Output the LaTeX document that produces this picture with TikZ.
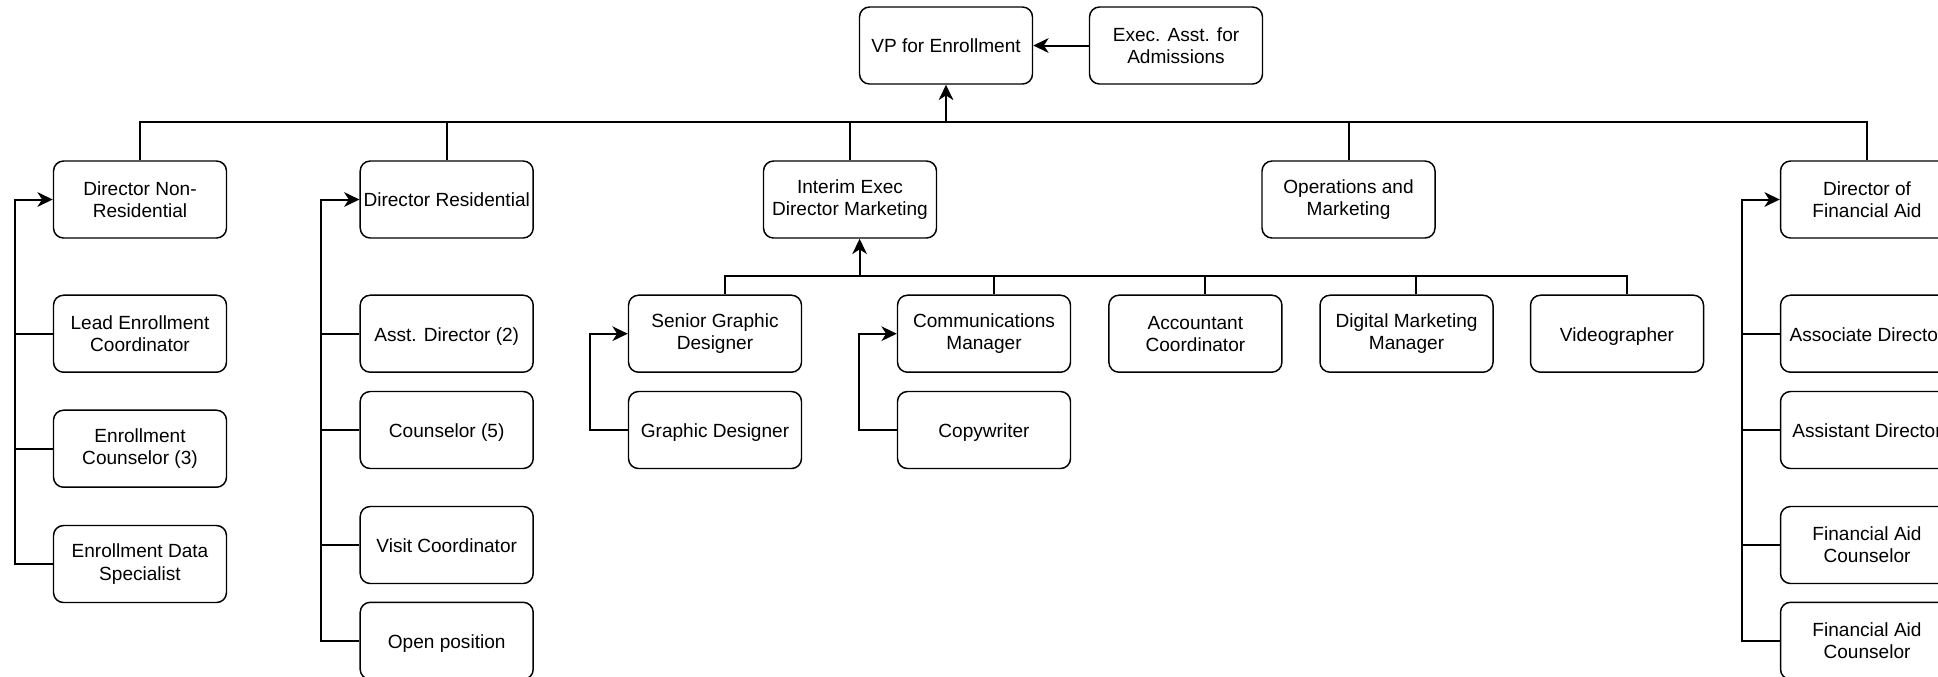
\documentclass[tikz,border=0pt]{standalone}
\usepackage{fontspec}
\setmainfont{Liberation Sans}
\usetikzlibrary{arrows.meta}

\begin{document}
\begin{tikzpicture}[x=0.75pt,y=-0.75pt,
    box/.style={draw,line width=1.1pt,rounded corners=7.5pt,minimum width=129.75pt,minimum height=57.75pt,inner sep=0pt,align=center,font=\fontsize{14.3pt}{16.7pt}\selectfont},
    oneline/.style={box,text height=14.3pt,text depth=3.1pt},
    conn/.style={line width=1.5pt},
    arr/.style={line width=1.5pt,-{Stealth[length=11.5pt,width=11pt,inset=3.5pt]}}]
    \useasboundingbox (0,0) rectangle (1938,676);
    % top
    \node[oneline] (vp) at (946,45.5) {VP for Enrollment};
    \node[box] (exec) at (1176,45.5) {Exec. Asst. for\\Admissions};
    % directors
    \node[box] (dnr) at (140,199.5) {Director Non-\\Residential};
    \node[oneline] (dres) at (446.7,199.5) {Director Residential};
    \node[box] (interim) at (850,199.5) {Interim Exec\\Director Marketing};
    \node[box] (ops) at (1348.5,199.5) {Operations and\\Marketing};
    \node[box] (dfa) at (1867,199.5) {Director of\\Financial Aid};
    % non-residential
    \node[box] (lead) at (140,333.7) {Lead Enrollment\\Coordinator};
    \node[box] (enrc) at (140,448.7) {Enrollment\\Counselor (3)};
    \node[box] (eds) at (140,564) {Enrollment Data\\Specialist};
    % residential
    \node[oneline] (asstd) at (446.7,333.7) {Asst. Director (2)};
    \node[oneline] (couns) at (446.7,430) {Counselor (5)};
    \node[oneline] (visit) at (446.7,545) {Visit Coordinator};
    \node[oneline] (open) at (446.7,640.8) {Open position};
    % marketing
    \node[box] (senior) at (715,333.7) {Senior Graphic\\Designer};
    \node[oneline] (graphic) at (715,430) {Graphic Designer};
    \node[box] (comms) at (984,333.7) {Communications\\Manager};
    \node[oneline] (copy) at (984,430) {Copywriter};
    \node[box] (acct) at (1195.4,333.7) {Accountant\\Coordinator};
    \node[box] (digital) at (1406.5,333.7) {Digital Marketing\\Manager};
    \node[oneline] (video) at (1617,333.7) {Videographer};
    % financial aid
    \node[oneline] (assoc) at (1867,333.7) {Associate Director};
    \node[oneline] (assist) at (1867,430) {Assistant Director};
    \node[box] (fac1) at (1867,545) {Financial Aid\\Counselor};
    \node[box] (fac2) at (1867,640.8) {Financial Aid\\Counselor};

    \draw[arr] (exec) -- (vp);
    \coordinate (bus1) at (946,122.3);
    \draw[conn] (dnr.north) |- (bus1) -| (dfa.north);
    \foreach \n in {dres,interim,ops} \draw[conn] (\n.north) |- (bus1);
    \draw[arr] (bus1) -- (vp.south);

    \coordinate (bus2) at (859.6,276);
    \draw[conn] ([xshift=7.2pt]senior.north) |- (bus2) -| ([xshift=7.2pt]video.north);
    \foreach \n in {comms,acct,digital} \draw[conn] ([xshift=7.2pt]\n.north) |- (bus2);
    \draw[arr] (bus2) -- ([xshift=7.2pt]interim.south);

    \draw[arr] (eds.west) -- ++(-28.5pt,0) |- (dnr.west);
    \foreach \n in {lead,enrc} \draw[conn] (\n.west) -- ++(-28.5pt,0);
    \draw[arr] (open.west) -- ++(-28.5pt,0) |- (dres.west);
    \foreach \n in {asstd,couns,visit} \draw[conn] (\n.west) -- ++(-28.5pt,0);
    \draw[arr] (fac2.west) -- ++(-28.5pt,0) |- (dfa.west);
    \foreach \n in {assoc,assist,fac1} \draw[conn] (\n.west) -- ++(-28.5pt,0);
    \draw[arr] (graphic.west) -- ++(-28.5pt,0) |- (senior.west);
    \draw[arr] (copy.west) -- ++(-28.5pt,0) |- (comms.west);
\end{tikzpicture}
\end{document}
